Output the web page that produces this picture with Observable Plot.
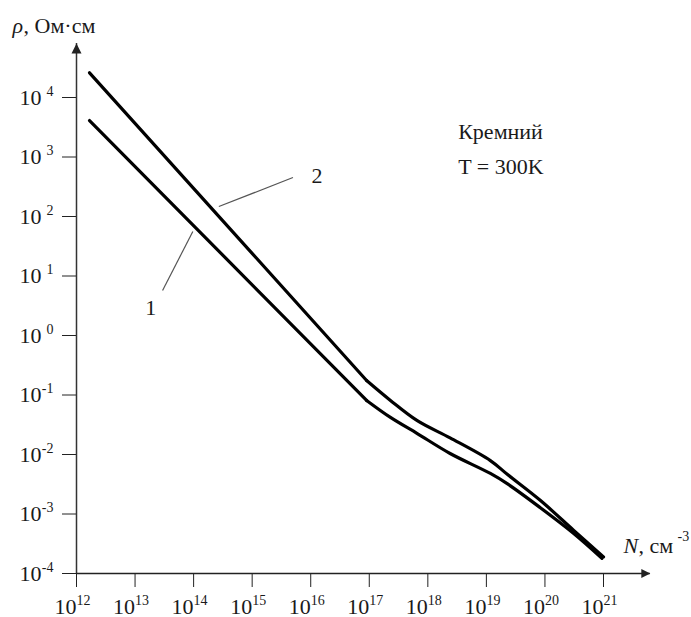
<!DOCTYPE html>
<html><head><meta charset="utf-8">
<script src="https://cdn.jsdelivr.net/npm/d3@7"></script>
<script src="https://cdn.jsdelivr.net/npm/@observablehq/plot@0.6"></script>
<style>
body{margin:0;background:#fff;}
#chart svg{display:block;}
#chart svg text{font-family:"Liberation Serif","Times New Roman",Tinos,"DejaVu Serif",serif !important;}
</style></head><body><div id="chart"></div>
<script>
// Tick values and labels
const xTicks = [1e12, 1e13, 1e14, 1e15, 1e16, 1e17, 1e18, 1e19, 1e20, 1e21];
const xExp = ["12", "13", "14", "15", "16", "17", "18", "19", "20", "21"];
const yTicks = [1e4, 1e3, 1e2, 1e1, 1e0, 1e-1, 1e-2, 1e-3, 1e-4];
const yExp = ["4", "3", "2", "1", "0", "-1", "-2", "-3", "-4"];

// Curve 1 (lower) and curve 2 (upper): N, cm^-3 -> rho, Ohm*cm
// the first two points form the straight part, the rest the curved tail
const curve1N   = [1.67e12, 9e16, 2.3e17, 6.6e17, 2.4e18, 1.17e19, 2.3e19, 8.3e19, 3.1e20, 9.4e20];
const curve1Rho = [4100,    0.081, 0.042, 0.0225, 0.0104, 4.8e-3, 3.2e-3, 1.28e-3, 4.7e-4, 1.8e-4];
const curve2N   = [1.67e12, 9e16, 2.3e17, 6.6e17, 2.4e18, 1.17e19, 2.3e19, 8.3e19, 3.1e20, 1e21];
const curve2Rho = [2.6e4,   0.175, 0.081, 0.037, 0.019, 7.9e-3, 4.6e-3, 1.7e-3, 5.3e-4, 1.9e-4];

// Curve labels and leader lines
const curveNames = ["1", "2"];
const curveLabelN = [1.85e13, 1.28e16];
const curveLabelRho = [2.17, 372];
const leaderN1 = [9.7e13, 2.95e13];
const leaderRho1 = [56, 5.7];
const leaderN2 = [2.7e14, 4.97e15];
const leaderRho2 = [147, 452];

// Annotation
const annoLines = ["Кремний", "T = 300K"];
const annoN = [3.3e18, 3.3e18];
const annoRho = [1970, 528];

// Axis extents (arrow tips)
const xAxisEnd = 6.3e21;
const yAxisEnd = 8.1e4;

const toRows = (N, R) => N.map((n, i) => ({N: n, rho: R[i]}));
const c1 = toRows(curve1N, curve1Rho);
const c2 = toRows(curve2N, curve2Rho);

const arrowUp = {draw(ctx) { ctx.moveTo(0, 0); ctx.lineTo(5, 10); ctx.lineTo(-5, 10); ctx.closePath(); }};
const arrowRight = {draw(ctx) { ctx.moveTo(0, 0); ctx.lineTo(-9, 4.5); ctx.lineTo(-9, -4.5); ctx.closePath(); }};

const serif = "Liberation Serif, Times New Roman, Tinos, DejaVu Serif, serif";
const ink = "#1a1a1a";
const T = (data, opts) => Plot.text(data, {fontFamily: serif, fill: ink, lineAnchor: "bottom", ...opts});

const chart = Plot.plot({
  width: 691,
  height: 617,
  marginLeft: 76,
  marginRight: 88,
  marginTop: 97,
  marginBottom: 44,
  style: {fontFamily: serif, fontSize: "22px", background: "#fff", color: "#222"},
  x: {type: "log", domain: [1e12, 1e21], ticks: xTicks, tickFormat: () => "", tickSize: 14, label: null},
  y: {type: "log", domain: [1e-4, 1e4], ticks: yTicks, tickFormat: () => "", tickSize: 14, label: null},
  marks: [
    // axis lines with arrows
    Plot.ruleX([1e12], {y1: 1e-4, y2: yAxisEnd, stroke: "#333", strokeWidth: 1.5}),
    Plot.ruleY([1e-4], {x1: 1e12, x2: xAxisEnd, stroke: "#222", strokeWidth: 1.5}),
    Plot.dot([0], {x: () => 1e12, y: () => yAxisEnd, symbol: arrowUp, fill: "#222", stroke: "none"}),
    Plot.dot([0], {x: () => xAxisEnd, y: () => 1e-4, symbol: arrowRight, fill: "#222", stroke: "none"}),
    // x tick labels
    T(xTicks, {x: d => d, frameAnchor: "bottom", text: () => "10", textAnchor: "end", dy: 40, fontSize: 22}),
    T(xTicks, {x: d => d, frameAnchor: "bottom", text: (d, i) => xExp[i], textAnchor: "start", dy: 31, fontSize: 14}),
    // y tick labels
    T(yTicks, {y: d => d, frameAnchor: "left", text: () => "10", textAnchor: "end", dx: -35, dy: 7, fontSize: 22}),
    T(yTicks, {y: d => d, frameAnchor: "left", text: (d, i) => yExp[i], textAnchor: "end", dx: -23, dy: -2, fontSize: 14}),
    // axis titles
    T([0], {frameAnchor: "top-left", text: () => "ρ", fontStyle: "italic", textAnchor: "start", dx: -64, dy: -65, fontSize: 22}),
    T([0], {frameAnchor: "top-left", text: () => ", Ом·см", textAnchor: "start", dx: -53, dy: -65, fontSize: 22}),
    T([0], {frameAnchor: "bottom-right", text: () => "N", fontStyle: "italic", textAnchor: "start", dx: 20, dy: -21, fontSize: 22}),
    T([0], {frameAnchor: "bottom-right", text: () => ", см", textAnchor: "start", dx: 35, dy: -21, fontSize: 22}),
    T([0], {frameAnchor: "bottom-right", text: () => "-3", textAnchor: "start", dx: 74, dy: -33, fontSize: 14}),
    // curves: straight part, then smooth tail
    Plot.line(c1.slice(0, 2), {x: "N", y: "rho", stroke: "#000", strokeWidth: 3.2}),
    Plot.line(c1.slice(1), {x: "N", y: "rho", stroke: "#000", strokeWidth: 3.2, curve: "catmull-rom"}),
    Plot.line(c2.slice(0, 2), {x: "N", y: "rho", stroke: "#000", strokeWidth: 3.2}),
    Plot.line(c2.slice(1), {x: "N", y: "rho", stroke: "#000", strokeWidth: 3.2, curve: "catmull-rom"}),
    // leader lines
    Plot.link([0], {x1: () => leaderN1[0], y1: () => leaderRho1[0], x2: () => leaderN1[1], y2: () => leaderRho1[1], stroke: "#555", strokeWidth: 1.2}),
    Plot.link([0], {x1: () => leaderN2[0], y1: () => leaderRho2[0], x2: () => leaderN2[1], y2: () => leaderRho2[1], stroke: "#555", strokeWidth: 1.2}),
    // curve labels
    T(curveNames, {x: (d, i) => curveLabelN[i], y: (d, i) => curveLabelRho[i], text: d => d, textAnchor: "middle", fontSize: 22}),
    // annotation
    T(annoLines, {x: (d, i) => annoN[i], y: (d, i) => annoRho[i], text: d => d, textAnchor: "start", fontSize: 22})
  ]
});
document.getElementById("chart").appendChild(chart);
</script>
</body></html>
